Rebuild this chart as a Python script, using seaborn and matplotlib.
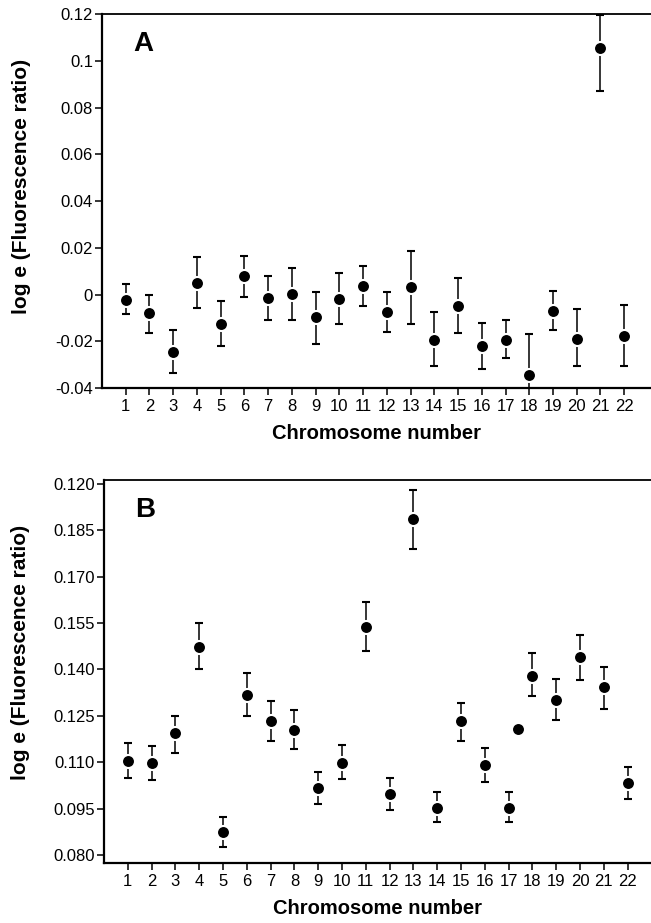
import matplotlib
matplotlib.use("Agg")
import matplotlib.pyplot as plt
import seaborn as sns
import numpy as np

# chromosome positions
chromosomes = list(range(1, 23))

# panel A: mean log ratio and error bar ends
means_a = [-0.0024, -0.0080, -0.0246, 0.0050, -0.0127, 0.0079, -0.0013, 0.0004,
           -0.0097, -0.0019, 0.0037, -0.0076, 0.0031, -0.0196, -0.0047, -0.0219,
           -0.0196, -0.0343, -0.0070, -0.0189, 0.1053, -0.0179]
upper_a = [0.0047, 0.0000, -0.0153, 0.0159, -0.0029, 0.0164, 0.0079, 0.0113,
           0.0010, 0.0091, 0.0124, 0.0010, 0.0187, -0.0076, 0.0071, -0.0121,
           -0.0109, -0.0167, 0.0016, -0.0063, 0.1197, -0.0046]
lower_a = [-0.0084, -0.0164, -0.0334, -0.0057, -0.0221, -0.0011, -0.0107, -0.0107,
           -0.0211, -0.0126, -0.0047, -0.0159, -0.0126, -0.0307, -0.0166, -0.0319,
           -0.0273, -0.0519, -0.0150, -0.0307, 0.0872, -0.0307]
yticks_a = [-0.04, -0.02, 0, 0.02, 0.04, 0.06, 0.08, 0.1, 0.12]
yticklabels_a = ["-0.04", "-0.02", "0", "0.02", "0.04", "0.06", "0.08", "0.1", "0.12"]

# panel B
means_b = [0.1105, 0.1097, 0.1194, 0.1473, 0.0873, 0.1318, 0.1234, 0.1203,
           0.1017, 0.1099, 0.1536, 0.0996, 0.1886, 0.0953, 0.1232, 0.1091,
           0.0953, 0.1380, 0.1302, 0.1439, 0.1342, 0.1032]
upper_b = [0.1161, 0.1153, 0.1251, 0.1551, 0.0922, 0.1390, 0.1299, 0.1269,
           0.1067, 0.1156, 0.1617, 0.1048, 0.1982, 0.1005, 0.1293, 0.1147,
           0.1005, 0.1454, 0.1370, 0.1511, 0.1409, 0.1084]
lower_b = [0.1050, 0.1043, 0.1131, 0.1400, 0.0827, 0.1251, 0.1170, 0.1142,
           0.0964, 0.1045, 0.1460, 0.0946, 0.1789, 0.0907, 0.1169, 0.1035,
           0.0907, 0.1313, 0.1237, 0.1367, 0.1273, 0.0981]
extra_x_b = [17.4]
extra_y_b = [0.1206]
yticks_b = [0.080, 0.095, 0.110, 0.125, 0.140, 0.155, 0.170, 0.185, 0.200]
yticklabels_b = ["0.080", "0.095", "0.110", "0.125", "0.140", "0.155", "0.170", "0.185", "0.120"]

sns.set_style("ticks")
plt.rcParams["font.family"] = ["Liberation Sans", "DejaVu Sans"]
plt.rcParams["text.color"] = "black"
plt.rcParams["axes.labelcolor"] = "black"

fig = plt.figure(figsize=(6.51, 9.23), dpi=100)
ax_a = fig.add_axes([0.1567, 0.5796, 0.8433, 0.4052])
ax_b = fig.add_axes([0.1598, 0.0650, 0.8402, 0.4150])

MARKER_S = 88


def draw_panel(ax, means, upper, lower, letter):
    means = np.array(means)
    yerr = [means - np.array(lower), np.array(upper) - means]
    ax.errorbar(chromosomes, means, yerr=yerr, fmt="none", ecolor="black",
                elinewidth=1.1, capsize=2.8, capthick=1.5, zorder=2)
    sns.scatterplot(x=chromosomes, y=means, ax=ax, color="black", s=MARKER_S,
                    edgecolor="white", linewidth=1.5, zorder=3, legend=False)
    ax.set_xticks(chromosomes)
    ax.set_xticklabels([str(c) for c in chromosomes])
    ax.tick_params(axis="both", direction="out", length=5, width=1.1,
                   labelsize=12, colors="black")
    ax.tick_params(axis="x", pad=3)
    ax.tick_params(axis="y", pad=1.5)
    ax.spines["right"].set_visible(False)
    for side in ["left", "bottom"]:
        ax.spines[side].set_linewidth(1.6)
        ax.spines[side].set_color("black")
    ax.spines["top"].set_linewidth(1.3)
    ax.spines["top"].set_color("black")
    ax.set_xlabel("Chromosome number", fontsize=14.5, fontweight="bold",
                  labelpad=7, color="black")
    ax.set_ylabel("log e (Fluorescence ratio)", fontsize=15, fontweight="bold",
                  color="black")
    ax.text(0.057, 0.955, letter, transform=ax.transAxes, fontsize=20,
            fontweight="bold", va="top", ha="left", color="black")


draw_panel(ax_a, means_a, upper_a, lower_a, "A")
ax_a.set_xlim(0, 23.13)
ax_a.set_ylim(-0.04, 0.12)
ax_a.set_yticks(yticks_a)
ax_a.set_yticklabels(yticklabels_a)
ax_a.yaxis.set_label_coords(-0.13, 0.54)

draw_panel(ax_b, means_b, upper_b, lower_b, "B")
sns.scatterplot(x=extra_x_b, y=extra_y_b, ax=ax_b, color="black", s=MARKER_S,
                edgecolor="white", linewidth=1.5, zorder=3, legend=False)
ax_b.set_xlim(0, 22.98)
ax_b.set_ylim(0.0774, 0.2013)
ax_b.set_yticks(yticks_b)
ax_b.set_yticklabels(yticklabels_b)
ax_b.yaxis.set_label_coords(-0.135, 0.55)

fig.savefig("out.png", dpi=100)
